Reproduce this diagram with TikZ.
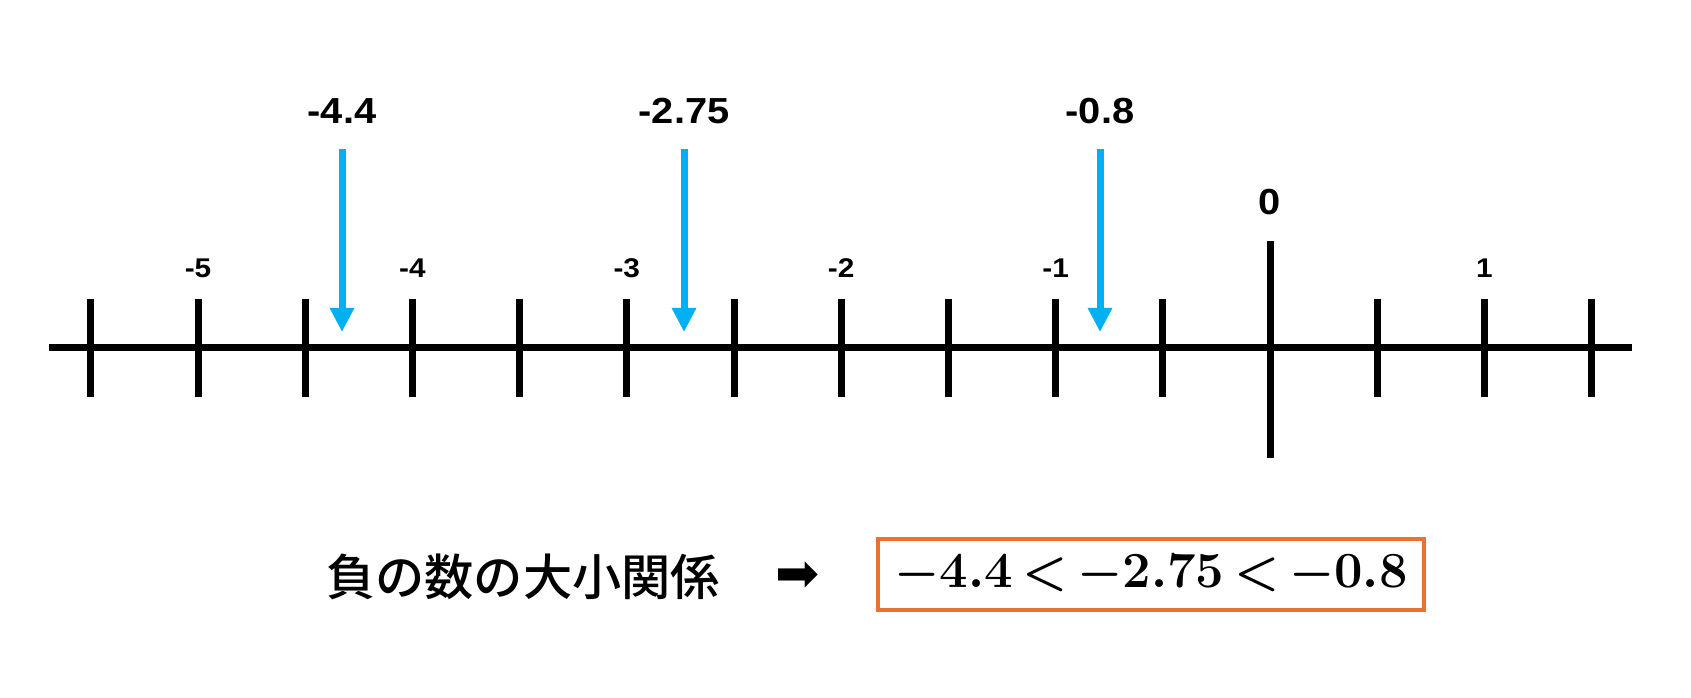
\documentclass[tikz,border=0pt]{standalone}
\usepackage[no-math]{fontspec}
\newfontfamily\lblfont{Liberation Sans}[FakeStretch=1.1]
\newfontfamily\jpfont{Noto Sans CJK JP Medium}
\newfontfamily\symfont{DejaVu Sans}
\usetikzlibrary{arrows.meta}
\definecolor{ptrblue}{HTML}{00B0F0}
\definecolor{boxorange}{HTML}{E97132}
\tikzset{
  ptr/.style={ptrblue,line width=0.07cm,-{Triangle[width=0.23cm,length=0.24cm]}},
  ticklab/.style={anchor=base,font=\lblfont\bfseries\fontsize{7.7}{9}\selectfont},
  numlab/.style={anchor=base,font=\lblfont\bfseries\fontsize{10.3}{12}\selectfont}
}
\begin{document}
\begin{tikzpicture}[x=0.01cm,y=-0.01cm]
\useasboundingbox (0,0) rectangle (1691,697);
\pgfmathsetmacro{\u}{214.4}
\pgfmathsetmacro{\zx}{1270}
\draw[line width=0.07cm](49,347)--(1632,347);
\foreach \k in {-5.5,-5,...,1.5}
  \draw[line width=0.07cm](\zx+\k*\u,299)--++(0,98);
\draw[line width=0.07cm](\zx,241)--(\zx,458);
%labels
\foreach \k in {-5,...,-1,1}
  \node[ticklab] (lab\k) at (\zx+\k*\u,277) {\k};
\node[numlab] (lab0) at (\zx,214) {0};
\foreach \v/\x in {-4.4/342,-2.75/684,-0.8/1100}{
  \node[numlab] (val\x) at (\x,123) {\v};
  \coordinate (top\x) at (\x,149);
  \coordinate (tip\x) at (\x,332);
  \draw[ptr] (top\x)--(tip\x);
}
%order
\node[font=\jpfont\fontsize{14}{16}\selectfont] (rule) at (523,577) {負の数の大小関係};
\node[font=\symfont\fontsize{15}{16}\selectfont] (sym) at (798,577) {➡};
\node[draw=boxorange,line width=0.04cm,minimum width=5.46cm,minimum height=0.71cm,
  font=\fontsize{15}{17}\selectfont\boldmath] (rel) at (1151,574.5)
  {$\thickmuskip=3mu -4.4<-2.75<-0.8$};
\end{tikzpicture}
\end{document}
